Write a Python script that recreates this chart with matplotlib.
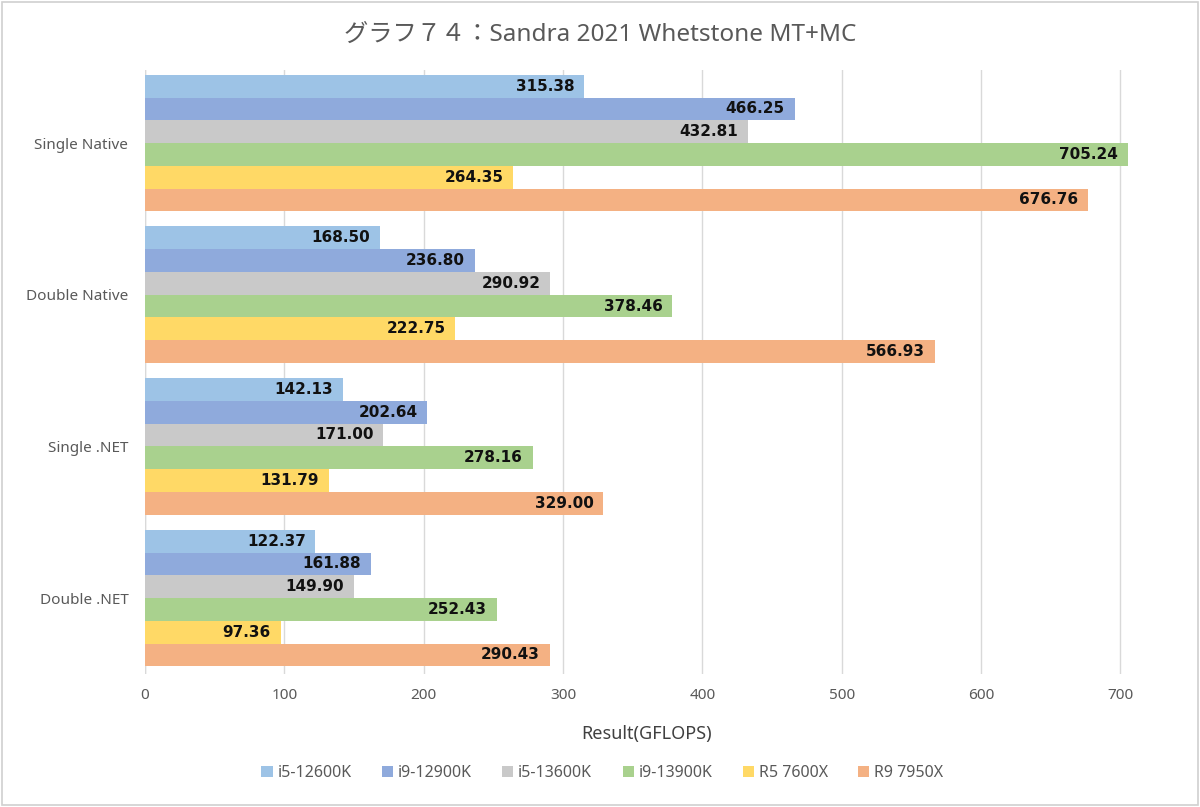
import numpy as np
import matplotlib.pyplot as plt

plt.rcParams['font.family'] = ['Noto Sans', 'Noto Sans CJK JP', 'DejaVu Sans']

categories = ['Single Native', 'Double Native', 'Single .NET', 'Double .NET']
cpus = ['i5-12600K', 'i9-12900K', 'i5-13600K', 'i9-13900K', 'R5 7600X', 'R9 7950X']
values = [
    [315.38, 168.50, 142.13, 122.37],
    [466.25, 236.80, 202.64, 161.88],
    [432.81, 290.92, 171.00, 149.90],
    [705.24, 378.46, 278.16, 252.43],
    [264.35, 222.75, 131.79, 97.36],
    [676.76, 566.93, 329.00, 290.43],
]
colors = ['#9DC3E6', '#8FAADC', '#C9C9C9', '#A9D18E', '#FFD966', '#F4B183']

fig = plt.figure(figsize=(12, 8.07), dpi=100)
ax = fig.add_axes([0.1208, 0.165, 0.836, 0.748])

y = np.arange(len(categories))
h = 0.15
for i, (cpu, vals) in enumerate(zip(cpus, values)):
    pos = y - 0.45 + h * (i + 0.5)
    bars = ax.barh(pos, vals, height=h, color=colors[i], label=cpu, zorder=2)
    for b, v in zip(bars, vals):
        ax.text(v - 7, b.get_y() + h / 2, f'{v:.2f}', ha='right', va='center',
                fontsize=11, fontweight='bold', color='#111111', zorder=3,
                family=['DejaVu Sans'])

ax.set_xlim(0, 720)
ax.set_ylim(3.5, -0.48)
ax.set_xticks(np.arange(0, 701, 100))
ax.set_yticks(y)
ax.set_yticklabels(categories)
ax.grid(axis='x', color='#D9D9D9', linewidth=1, zorder=0)
ax.tick_params(length=0, labelsize=11, colors='#595959')
ax.tick_params(axis='x', pad=10)
ax.tick_params(axis='y', pad=12)
for s in ax.spines.values():
    s.set_visible(False)
ax.axvline(0, color='#D9D9D9', linewidth=1, zorder=1)

ax.set_xlabel('Result(GFLOPS)', fontsize=13, color='#404040', labelpad=16)
fig.suptitle('グラフ７４：Sandra 2021 Whetstone MT+MC', fontsize=17.5, color='#595959',
             y=0.972)

fig.legend(loc='center', bbox_to_anchor=(0.502, 0.042), ncol=6, frameon=False,
           fontsize=11.5, handlelength=0.7, handleheight=0.7, handletextpad=0.3,
           columnspacing=1.9, labelcolor='#595959')

fig.patches.append(plt.Rectangle((0.002, 0.002), 0.996, 0.996, transform=fig.transFigure,
                                 fill=False, edgecolor='#D0D0D0', linewidth=1.2))

fig.savefig('out.png', dpi=100)
